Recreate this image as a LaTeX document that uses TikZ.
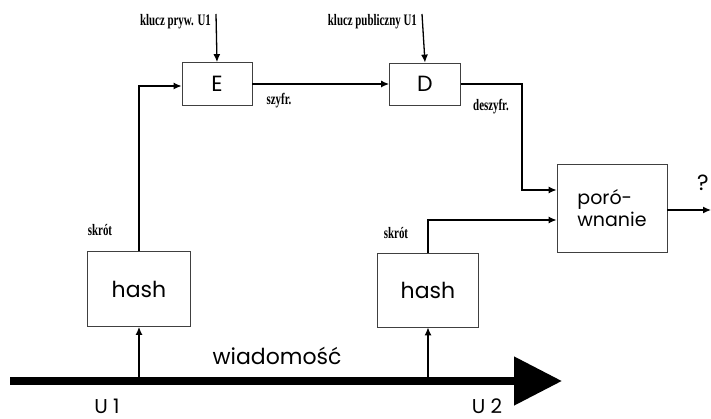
\documentclass[tikz,border=0pt]{standalone}
\usepackage{fontspec}
\setmainfont{Poppins}
\newfontfamily\labelfont{Liberation Serif}[FakeStretch=0.68]
\usetikzlibrary{arrows.meta}

\begin{document}
\begin{tikzpicture}[x=1pt, y=-1pt, >={Latex[length=8pt,width=7pt]},
	box/.style={draw=black!75, line width=0.8pt, inner sep=0pt, font=\fontsize{22}{24}\selectfont},
	wire/.style={line width=1.3pt},
	lbl/.style={inner sep=0pt, font=\labelfont\bfseries\fontsize{16}{17}\selectfont},
	txt/.style={inner sep=0pt, font=\fontsize{22}{24}\selectfont}]
				\useasboundingbox (0,0) rectangle (711,419);
				
				\node[box, minimum width=70pt, minimum height=43pt] (enc) at (217,84) {E};
				\node[box, minimum width=71pt, minimum height=42pt] (dec) at (425,84) {D};
				\node[box, minimum width=103pt, minimum height=75pt] (hashA) at (139,289) {hash};
				\node[box, minimum width=101pt, minimum height=74pt] (hashB) at (428,290) {hash};
				\node[box, minimum width=110pt, minimum height=88pt, align=left, font=\fontsize{19}{22}\selectfont] (cmp) at (612,208) {poró-\\wnanie};
				
				\coordinate (keyA) at (216,14);
				\coordinate (keyB) at (422,14);
				\coordinate (ax0) at (10,381);
				\coordinate (ax1) at (562,381);
				\coordinate (out) at (711,210);
				
				\node[lbl, anchor=east] (keyAlbl) at (211,22) {klucz pryw. U1};
				\node[lbl, anchor=east] (keyBlbl) at (417,22) {klucz publiczny U1};
				\node[lbl] (szyfr) at (279,101) {szyfr.};
				\node[lbl] (deszyfr) at (491,107) {deszyfr.};
				\node[lbl] (skrotA) at (100,230) {skrót};
				\node[lbl] (skrotB) at (396,233) {skrót};
				\node[txt] (msg) at (277,356) {wiadomość};
				\node[txt, anchor=base, font=\fontsize{20}{22}\selectfont] (userA) at (107,413) {U 1};
				\node[txt, anchor=base, font=\fontsize{20}{22}\selectfont] (userB) at (487,413) {U 2};
				\node[txt] (quest) at (703,183) {?};
				
				\draw[line width=8pt, -{Triangle[length=48pt,width=47pt]}] (ax0) -- (ax1);
				
				\draw[wire, ->] (keyA) -- (enc.north);
				\draw[wire, ->] (keyB) -- (dec.north);
				\draw[wire, ->] (enc) -- (dec);
				\draw[wire, ->] (hashA.north) |- ([yshift=-2pt]enc.west);
				\draw[wire, ->] (dec.east) -- ++(61,0) |- ([yshift=18pt]cmp.west);
				\draw[wire, ->] (hashB.north) |- ([yshift=-12pt]cmp.west);
				\draw[wire, ->] (cmp.east |- out) -- (out);
				
				\draw[wire, ->] (hashA.south |- ax0) -- (hashA.south);
				\draw[wire, ->] (hashB.south |- ax0) -- (hashB.south);
			\end{tikzpicture}
\end{document}
